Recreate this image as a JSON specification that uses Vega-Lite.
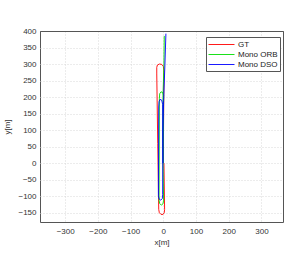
{
  "$schema": "https://vega.github.io/schema/vega-lite/v6.json",
  "autosize": {"type": "none"},
  "padding": {"left": 40, "top": 31, "right": 22, "bottom": 51},
  "width": 243,
  "height": 191,
  "background": "white",
  "config": {
    "view": {"stroke": "#555", "strokeWidth": 1},
    "font": "Liberation Sans"
  },
  "data": {
    "values": [
      {"s": "GT", "i": 0, "x": 0, "y": 0},
      {"s": "GT", "i": 1, "x": 1, "y": 150},
      {"s": "GT", "i": 2, "x": 2, "y": 280},
      {"s": "GT", "i": 3, "x": 0, "y": 293},
      {"s": "GT", "i": 4, "x": -5, "y": 299},
      {"s": "GT", "i": 5, "x": -12, "y": 300},
      {"s": "GT", "i": 6, "x": -18, "y": 297},
      {"s": "GT", "i": 7, "x": -20, "y": 290},
      {"s": "GT", "i": 8, "x": -20, "y": 270},
      {"s": "GT", "i": 9, "x": -17, "y": 60},
      {"s": "GT", "i": 10, "x": -14, "y": -140},
      {"s": "GT", "i": 11, "x": -12, "y": -150},
      {"s": "GT", "i": 12, "x": -7, "y": -155},
      {"s": "GT", "i": 13, "x": -1, "y": -155},
      {"s": "GT", "i": 14, "x": 3, "y": -150},
      {"s": "GT", "i": 15, "x": 4, "y": -140},
      {"s": "GT", "i": 16, "x": 2, "y": 0},
      {"s": "Mono ORB", "i": 0, "x": 0, "y": 0},
      {"s": "Mono ORB", "i": 1, "x": 1, "y": 205},
      {"s": "Mono ORB", "i": 2, "x": -2, "y": 214},
      {"s": "Mono ORB", "i": 3, "x": -7, "y": 216},
      {"s": "Mono ORB", "i": 4, "x": -11, "y": 210},
      {"s": "Mono ORB", "i": 5, "x": -12, "y": 195},
      {"s": "Mono ORB", "i": 6, "x": -13, "y": -112},
      {"s": "Mono ORB", "i": 7, "x": -11, "y": -122},
      {"s": "Mono ORB", "i": 8, "x": -6, "y": -127},
      {"s": "Mono ORB", "i": 9, "x": -1, "y": -123},
      {"s": "Mono ORB", "i": 10, "x": 1, "y": -112},
      {"s": "Mono ORB", "i": 11, "x": -2, "y": 60},
      {"s": "Mono ORB", "i": 12, "x": -1, "y": 200},
      {"s": "Mono ORB", "i": 13, "x": 2, "y": 300},
      {"s": "Mono ORB", "i": 14, "x": 3, "y": 385},
      {"s": "Mono DSO", "i": 0, "x": -1, "y": 0},
      {"s": "Mono DSO", "i": 1, "x": -2, "y": 178},
      {"s": "Mono DSO", "i": 2, "x": -5, "y": 191},
      {"s": "Mono DSO", "i": 3, "x": -10, "y": 193},
      {"s": "Mono DSO", "i": 4, "x": -13, "y": 186},
      {"s": "Mono DSO", "i": 5, "x": -14, "y": 170},
      {"s": "Mono DSO", "i": 6, "x": -15, "y": -98},
      {"s": "Mono DSO", "i": 7, "x": -13, "y": -108},
      {"s": "Mono DSO", "i": 8, "x": -8, "y": -112},
      {"s": "Mono DSO", "i": 9, "x": -3, "y": -107},
      {"s": "Mono DSO", "i": 10, "x": -2, "y": -95},
      {"s": "Mono DSO", "i": 11, "x": -1, "y": 100},
      {"s": "Mono DSO", "i": 12, "x": 1, "y": 190},
      {"s": "Mono DSO", "i": 13, "x": 5, "y": 300},
      {"s": "Mono DSO", "i": 14, "x": 8, "y": 392}
    ]
  },
  "mark": {"type": "line", "strokeWidth": 0.9, "clip": true},
  "encoding": {
    "x": {
      "field": "x", "type": "quantitative",
      "scale": {"domain": [-377, 366], "nice": false, "zero": false},
      "axis": {
        "title": "x[m]", "values": [-300, -200, -100, 0, 100, 200, 300],
        "grid": true, "gridDash": [1, 2], "gridColor": "#d8d8d8",
        "domain": false, "ticks": false,
        "labelFontSize": 8, "labelColor": "#333", "labelPadding": 5,
        "titleFontSize": 8, "titleFontWeight": "normal", "titleColor": "#333", "titlePadding": 3
      }
    },
    "y": {
      "field": "y", "type": "quantitative",
      "scale": {"domain": [-178, 400], "nice": false, "zero": false},
      "axis": {
        "title": "y[m]", "values": [-150, -100, -50, 0, 50, 100, 150, 200, 250, 300, 350, 400],
        "grid": true,
        "gridDash": {"condition": {"test": "datum.value === 400", "value": []}, "value": [1, 2]},
        "gridColor": {"condition": {"test": "datum.value === 400", "value": "#555"}, "value": "#d8d8d8"},
        "domain": false, "ticks": false, "labelBound": false, "labelFlush": false,
        "labelFontSize": 8, "labelColor": "#333", "labelPadding": 4,
        "titleFontSize": 8, "titleFontWeight": "normal", "titleColor": "#333", "titlePadding": 6
      }
    },
    "color": {
      "field": "s", "type": "nominal",
      "scale": {"domain": ["GT", "Mono ORB", "Mono DSO"], "range": ["#ff0000", "#00dd00", "#0000ff"]},
      "legend": {
        "title": null, "orient": "none", "legendX": 166, "legendY": 6,
        "symbolType": "M-1,0H4.2", "symbolSize": 100, "symbolStrokeWidth": 0.9,
        "labelFontSize": 8, "labelColor": "#222",
        "strokeColor": "#555", "fillColor": "white", "padding": 2,
        "rowPadding": 0, "labelOffset": 19
      }
    },
    "order": {"field": "i", "type": "quantitative"}
  }
}
